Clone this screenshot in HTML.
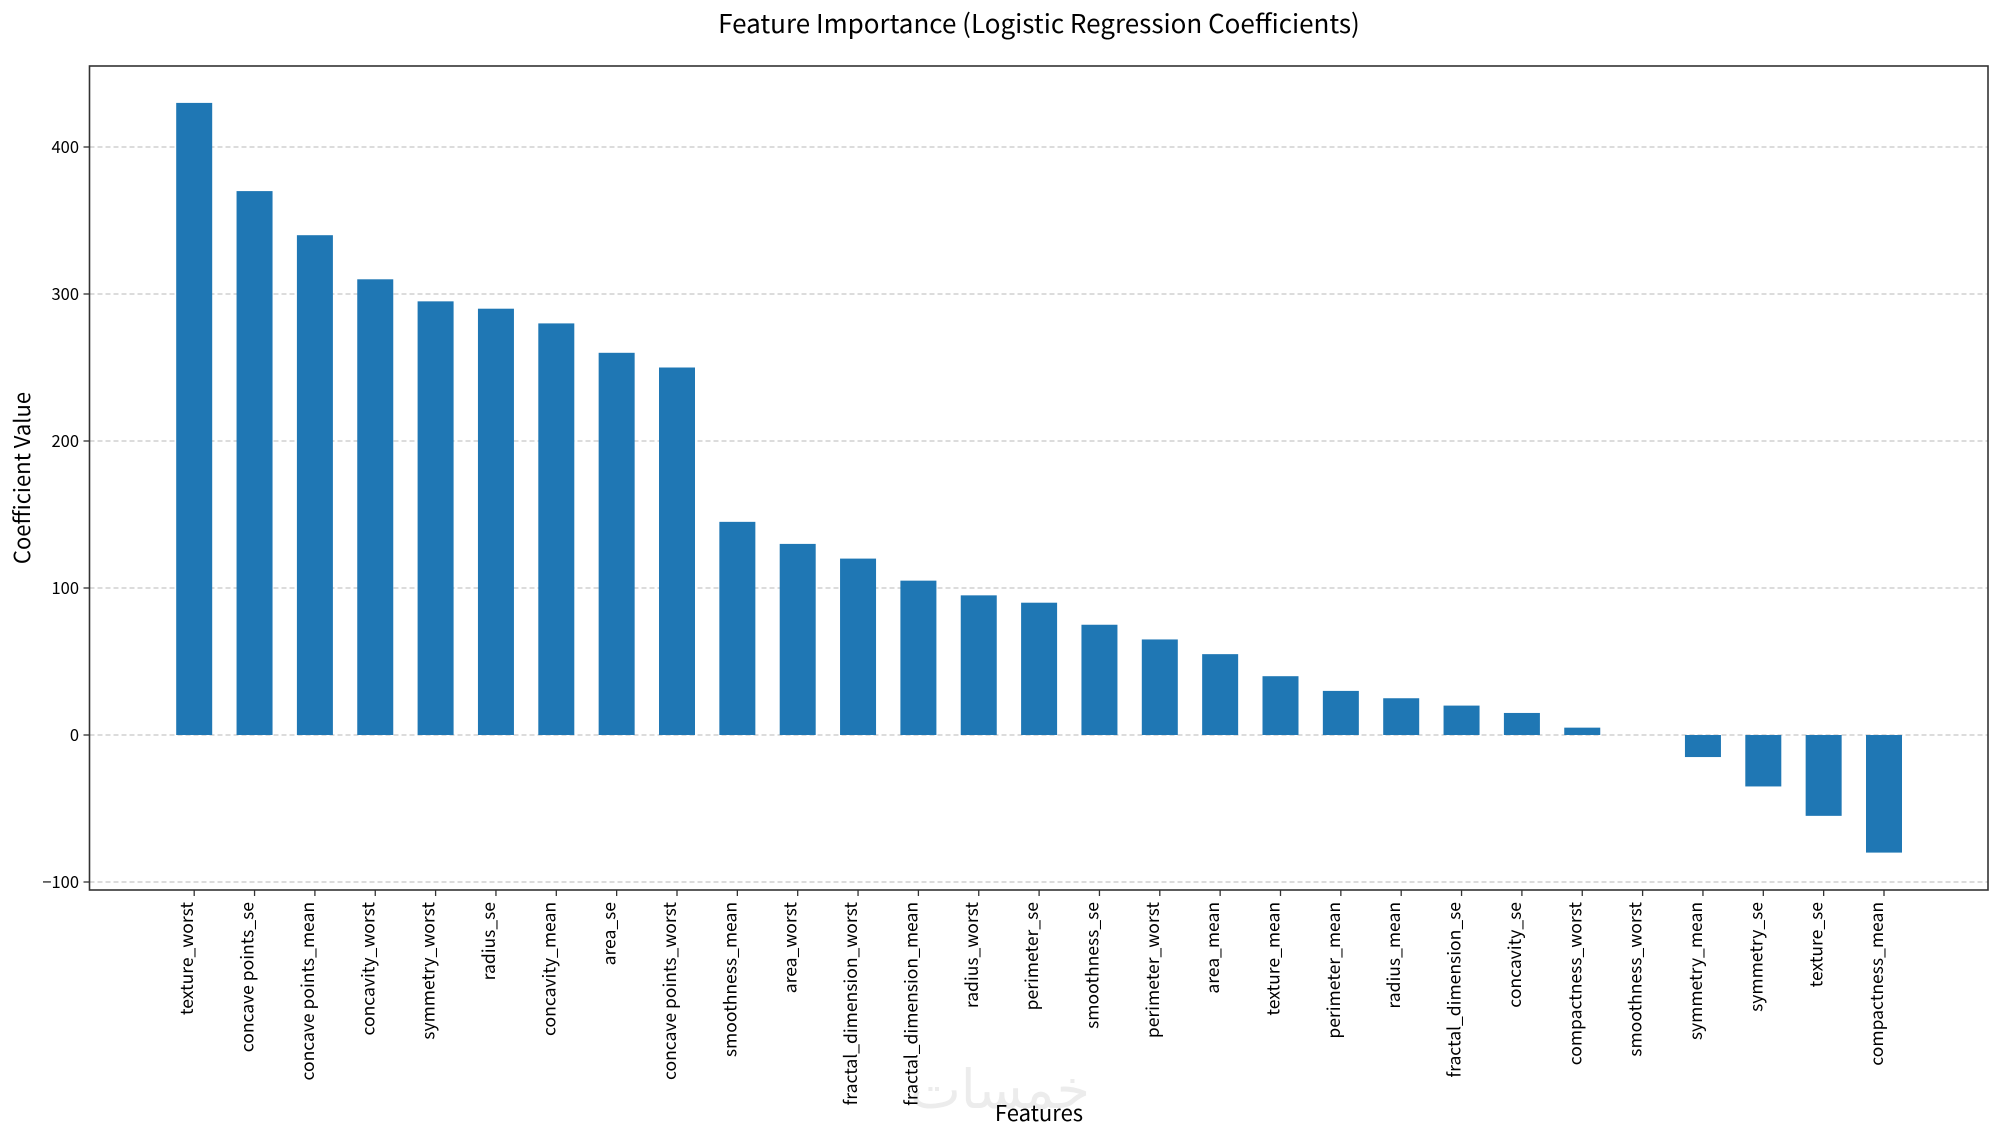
<!DOCTYPE html>
<html><head><meta charset="utf-8"><style>
html,body{margin:0;padding:0;background:#fff;}
svg text{font-family:"Noto Sans CJK JP","Liberation Sans",sans-serif;fill:#000;}
</style></head><body>
<svg id="chart" width="2000" height="1136" viewBox="0 0 2000 1136" xmlns="http://www.w3.org/2000/svg">
<rect x="0" y="0" width="2000" height="1136" fill="#fff"/>
<text x="1039" y="33" font-size="26" text-anchor="middle">Feature Importance (Logistic Regression Coefficients)</text>
<text x="1000" y="1108" font-size="54" text-anchor="middle" style="fill:#ececec">خمسات</text>
<text x="1039" y="1121" font-size="22" text-anchor="middle">Features</text>
<text x="0" y="0" font-size="22" text-anchor="middle" transform="translate(30,478) rotate(-90)">Coefficient Value</text>
<g id="grid"></g>
<g id="bars"></g>
<g id="xticks"></g>
<g id="yticks"></g>
<rect x="89.5" y="66" width="1898.5" height="824" fill="none" stroke="#333" stroke-width="1.6"/>
</svg>
<script>
const categories = ["texture_worst","concave points_se","concave points_mean","concavity_worst","symmetry_worst","radius_se","concavity_mean","area_se","concave points_worst","smoothness_mean","area_worst","fractal_dimension_worst","fractal_dimension_mean","radius_worst","perimeter_se","smoothness_se","perimeter_worst","area_mean","texture_mean","perimeter_mean","radius_mean","fractal_dimension_se","concavity_se","compactness_worst","smoothness_worst","symmetry_mean","symmetry_se","texture_se","compactness_mean"];
const values = [430,370,340,310,295,290,280,260,250,145,130,120,105,95,90,75,65,55,40,30,25,20,15,5,0,-15,-35,-55,-80];
const yTicks = [-100,0,100,200,300,400];
const yTickLabels = ["\u2212100","0","100","200","300","400"];

const NS = "http://www.w3.org/2000/svg";
function yScale(v){ return 735 - v * 1.47; }
function xScale(i){ return 194.2 + i * 60.35; }
const bw = 36;

const grid = document.getElementById('grid');
const yt = document.getElementById('yticks');
yTicks.forEach((t, k) => {
  const y = yScale(t);
  const l = document.createElementNS(NS, 'line');
  
  
  l.setAttribute('x1', 89.5); l.setAttribute('x2', 1988);
  l.setAttribute('y1', y); l.setAttribute('y2', y);
  l.setAttribute('stroke', '#c8c8c8'); l.setAttribute('stroke-width', '1.2');
  l.setAttribute('stroke-dasharray', '5,3');
  grid.appendChild(l);
  const tk = document.createElementNS(NS, 'line');
  
  
  tk.setAttribute('x1', 83.5); tk.setAttribute('x2', 89.5);
  tk.setAttribute('y1', y); tk.setAttribute('y2', y);
  tk.setAttribute('stroke', '#333'); tk.setAttribute('stroke-width', '1.3');
  yt.appendChild(tk);
  const tx = document.createElementNS(NS, 'text');
  
  
  tx.setAttribute('x', 79); tx.setAttribute('y', y + 6);
  tx.setAttribute('font-size', '16.5'); tx.setAttribute('text-anchor', 'end');
  tx.textContent = yTickLabels[k];
  yt.appendChild(tx);
});

const bars = document.getElementById('bars');
const xt = document.getElementById('xticks');
categories.forEach((c, i) => {
  const v = values[i];
  const x = xScale(i);
  const y0 = yScale(0), y1 = yScale(v);
  const r = document.createElementNS(NS, 'rect');
  
  
  r.setAttribute('x', x - bw / 2); r.setAttribute('width', bw);
  r.setAttribute('y', Math.min(y0, y1)); r.setAttribute('height', Math.abs(y1 - y0));
  r.setAttribute('fill', '#1f77b4');
  bars.appendChild(r);
  const tk = document.createElementNS(NS, 'line');
  
  
  tk.setAttribute('x1', x); tk.setAttribute('x2', x);
  tk.setAttribute('y1', 890); tk.setAttribute('y2', 896);
  tk.setAttribute('stroke', '#333'); tk.setAttribute('stroke-width', '1.3');
  xt.appendChild(tk);
  const tx = document.createElementNS(NS, 'text');
  
  
  tx.setAttribute('font-size', '17.5'); tx.setAttribute('text-anchor', 'end');
  tx.setAttribute('transform', 'translate(' + (x - 1) + ',902) rotate(-90)');
  tx.textContent = c;
  xt.appendChild(tx);
});
</script>
</body></html>
